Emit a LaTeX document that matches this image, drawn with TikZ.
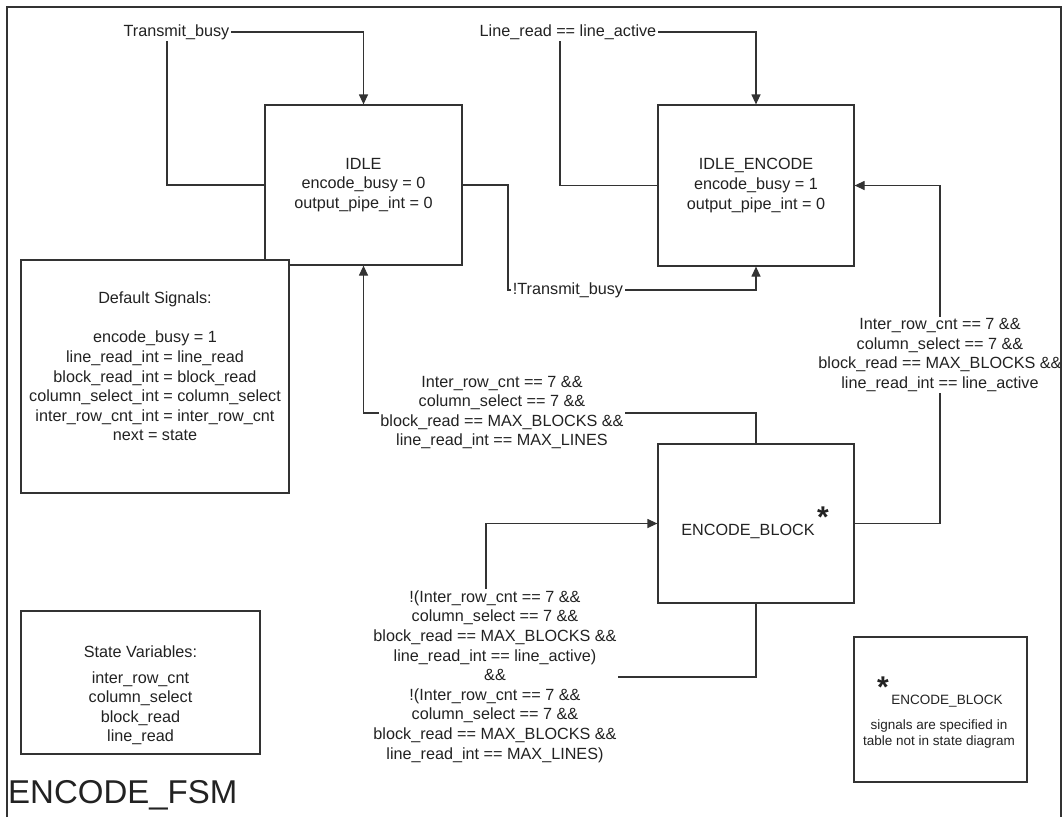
\documentclass[tikz,border=0pt]{standalone}
\usepackage{fontspec}
\setmainfont{Liberation Sans}
\usetikzlibrary{arrows.meta}
\definecolor{ink}{HTML}{222222}
\definecolor{wire}{HTML}{333333}
\begin{document}
\begin{tikzpicture}[x=1pt,y=-1pt,
  every node/.style={font=\fontsize{16.2}{19.6}\selectfont, text=ink},
  state/.style={draw=wire, line width=1.2pt, fill=white, inner sep=0pt, align=center},
  panel/.style={draw=wire, line width=1.2pt, fill=white, inner sep=0pt},
  cond/.style={fill=white, inner sep=1.5pt, align=center},
  wirestyle/.style={draw=wire, line width=1.2pt},
  arr/.style={wirestyle, -{Triangle[length=10pt,width=9pt]}},
  star/.style={font=\fontsize{30}{30}\bfseries\selectfont, inner sep=0pt},
]
\useasboundingbox (0,0) rectangle (1063,817);
\fill[white] (0,0) rectangle (1063,817);

% states
\node[state, minimum width=197pt, minimum height=160pt] (idle) at (363.5,185)
  {IDLE\\encode\_busy = 0\\output\_pipe\_int = 0};
\node[state, minimum width=196pt, minimum height=161pt] (ienc) at (756,185.5)
  {IDLE\_ENCODE\\encode\_busy = 1\\output\_pipe\_int = 0};
\node[state, minimum width=196pt, minimum height=159pt] (eblk) at (756,523.5) {};
\node (ebtxt) at (748,531) {ENCODE\_BLOCK};
\node[star] (ebstar) at (823,517) {*};

% default signals panel (overlaps the IDLE corner)
\node[panel, minimum width=268pt, minimum height=233pt] (defaults) at (155,376.5) {};
\node[align=center] (deftxt) at (155,366.5)
  {Default Signals:\\[19.6pt]encode\_busy = 1\\line\_read\_int = line\_read\\
   block\_read\_int = block\_read\\column\_select\_int = column\_select\\
   inter\_row\_cnt\_int = inter\_row\_cnt\\next = state};

% state variables panel
\node[panel, minimum width=239pt, minimum height=143pt] (vars) at (140.5,682.5) {};
\node[align=center, font=\fontsize{16.2}{19.5}\selectfont] (varstxt) at (140.5,695)
  {State Variables:\\[6.5pt]inter\_row\_cnt\\column\_select\\block\_read\\line\_read};

% footnote panel
\node[panel, minimum width=173pt, minimum height=145pt] (note) at (940.5,709.5) {};
\node[star] (notestar) at (883,687) {*};
\node[font=\fontsize{13.5}{16}\selectfont] (notetitle) at (947,701) {ENCODE\_BLOCK};
\node[align=center, font=\fontsize{13.5}{16}\selectfont] (notetxt) at (939,734)
  {signals are specified in\\table not in state diagram};

% transitions
\draw[arr] (idle.west) -- (167,185) -- (167,32) -- (363.5,32) -- (idle.north);
\node[cond] (c1) at (176.5,32) {Transmit\_busy};

\draw[arr] (ienc.west) -- (560,185.5) -- (560,32) -- (756,32) -- (ienc.north);
\node[cond] (c2) at (568,32) {Line\_read == line\_active};

\draw[arr] (idle.east) -- (508,185) -- (508,290) -- (756,290) -- (ienc.south);
\node[cond] (c3) at (568,290) {!Transmit\_busy};

\draw[arr] (eblk.north) -- (756,413) -- (363.5,413) -- (idle.south);
\node[cond] (c4) at (502,412.5)
  {Inter\_row\_cnt == 7 \&\&\\column\_select == 7 \&\&\\
   block\_read == MAX\_BLOCKS \&\&\\line\_read\_int == MAX\_LINES};

\draw[arr] (eblk.east) -- (940,523.5) -- (940,185.5) -- (ienc.east);
\node[cond] (c5) at (940,355)
  {Inter\_row\_cnt == 7 \&\&\\column\_select == 7 \&\&\\
   block\_read == MAX\_BLOCKS \&\&\\line\_read\_int == line\_active};

\draw[arr] (eblk.south) -- (756,677) -- (486,677) -- (486,523.5) -- (eblk.west);
\node[cond] (c6) at (495,676.5)
  {!(Inter\_row\_cnt == 7 \&\&\\column\_select == 7 \&\&\\
   block\_read == MAX\_BLOCKS \&\&\\line\_read\_int == line\_active)\\\&\&\\
   !(Inter\_row\_cnt == 7 \&\&\\column\_select == 7 \&\&\\
   block\_read == MAX\_BLOCKS \&\&\\line\_read\_int == MAX\_LINES)};

% title and sheet frame
\node[anchor=west, inner sep=0pt, font=\fontsize{33}{40}\selectfont] (title) at (8,795) {ENCODE\_FSM};
\draw[wire, line width=1.5pt] (7,817) -- (7,7) -- (1061,7) -- (1061,817);
\end{tikzpicture}
\end{document}
